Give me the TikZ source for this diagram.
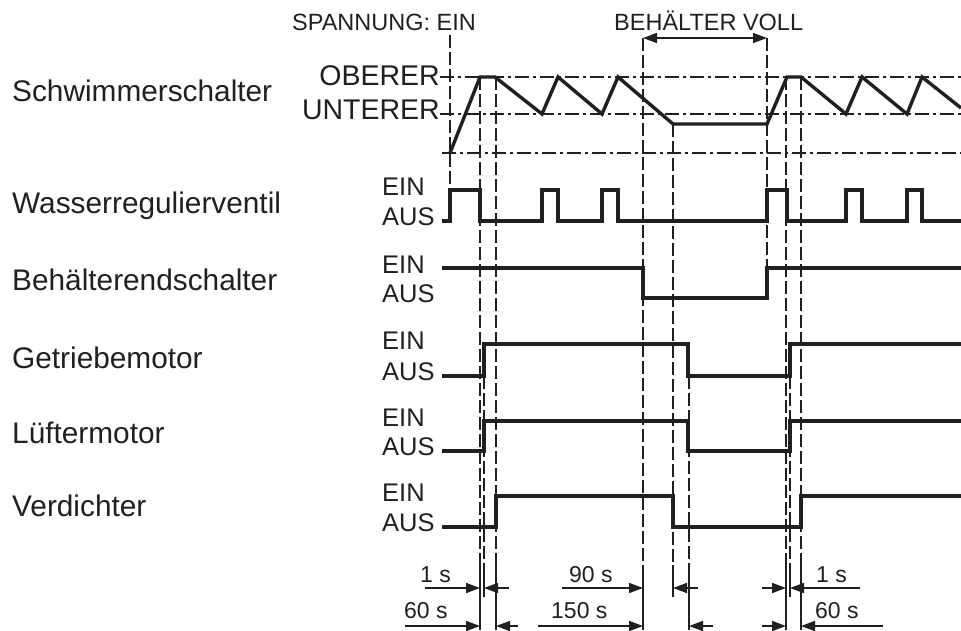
\documentclass[tikz,border=0pt]{standalone}
\usepackage{fontspec}
\setmainfont{Liberation Sans}
\usetikzlibrary{arrows.meta}
\definecolor{ink}{HTML}{231F20}

\begin{document}
\begin{tikzpicture}[x=1pt, y=-1pt, color=ink,
  sig/.style={line width=3.4pt, line join=miter},
  guide/.style={line width=1.7pt, dash pattern=on 13pt off 4pt},
  level/.style={line width=1.6pt, dash pattern=on 14pt off 4pt on 3pt off 4pt},
  dimline/.style={line width=1.7pt, -{Triangle[length=14pt,width=10pt]}},
  rowlabel/.style={anchor=base west, inner sep=0pt, font=\fontsize{29.8}{34}\selectfont},
  statelabel/.style={anchor=base west, inner sep=0pt, font=\fontsize{25.5}{29}\selectfont},
  toplabel/.style={anchor=base west, inner sep=0pt, font=\fontsize{23.5}{27}\selectfont},
  timelabel/.style={anchor=base west, inner sep=0pt, font=\fontsize{23}{26}\selectfont}]
  \fill[white] (0,0) rectangle (961,630);
  \useasboundingbox (0,0) rectangle (961,630);

  % Row names
  \node[rowlabel] (float)  at (12,101) {Schwimmerschalter};
  \node[rowlabel] (valve)  at (12,213) {Wasserregulierventil};
  \node[rowlabel] (tank)   at (12,290) {Behälterendschalter};
  \node[rowlabel] (gear)   at (12,368) {Getriebemotor};
  \node[rowlabel] (fan)    at (12,443) {Lüftermotor};
  \node[rowlabel] (comp)   at (12,516) {Verdichter};

  % EIN / AUS states
  \foreach \hi/\lo [count=\i] in {190/221, 268/298, 344/376, 421/451, 496/527} {
    \node[statelabel] (ein\i) at (382,\hi+5) {EIN};
    \node[statelabel] (aus\i) at (382,\lo+4) {AUS};
  }

  % Float levels
  \node[anchor=base east, inner sep=0pt, font=\fontsize{28.5}{33}\selectfont] (upper) at (440,85) {OBERER};
  \node[anchor=base east, inner sep=0pt, font=\fontsize{28.5}{33}\selectfont] (lower) at (440,119) {UNTERER};
  \draw[level] (440,77) -- (961,77);
  \draw[level] (440,114) -- (961,114);
  \draw[level] (442,153) -- (961,153);

  % Events on top
  \node[toplabel] (power) at (292,30) {SPANNUNG: EIN};
  \node[toplabel] (full) at (614,30) {BEHÄLTER VOLL};
  \draw[line width=1.7pt, {Triangle[length=14pt,width=10pt]}-{Triangle[length=14pt,width=10pt]}] (643,38) -- (767,38);

  % Dashed time marks
  \foreach \x/\ya/\yb in {450/35/190, 767/38/268, 480/77/565, 484/376/565, 496/77/565,
      643/38/565, 673/124/565, 689/376/565, 786/77/565, 790/376/565, 801/77/565} {
    \draw[guide] (\x,\ya) -- (\x,\yb);
  }
  \foreach \x/\yb in {480/630, 484/597, 496/630, 643/630, 673/597, 689/630, 786/630, 790/597, 801/630} {
    \draw[line width=1.7pt] (\x,565) -- (\x,\yb);
  }

  % Signals
  \draw[sig] (450,153) -- (480,77) -- (495,77) -- (542,114) -- (558,77) -- (602,114) -- (618,77)
    -- (673,124) -- (767,124) -- (787,77) -- (801,77) -- (846,114) -- (862,77) -- (907,114)
    -- (922,77) -- (961,108);
  \draw[sig] (442,221) -- (450,221) -- (450,190) -- (480,190) -- (480,221) -- (542,221) -- (542,190)
    -- (558,190) -- (558,221) -- (602,221) -- (602,190) -- (618,190) -- (618,221) -- (767,221)
    -- (767,190) -- (787,190) -- (787,221) -- (846,221) -- (846,190) -- (862,190) -- (862,221)
    -- (907,221) -- (907,190) -- (922,190) -- (922,221) -- (961,221);
  \draw[sig] (442,268) -- (643,268) -- (643,298) -- (767,298) -- (767,268) -- (961,268);
  \draw[sig] (442,376) -- (484,376) -- (484,344) -- (688,344) -- (688,376) -- (790,376) -- (790,344) -- (961,344);
  \draw[sig] (442,451) -- (484,451) -- (484,421) -- (688,421) -- (688,451) -- (790,451) -- (790,421) -- (961,421);
  \draw[sig] (442,527) -- (496,527) -- (496,496) -- (673,496) -- (673,527) -- (801,527) -- (801,496) -- (961,496);

  % Delay times
  \node[timelabel] (d1)   at (420,582) {1 s};
  \node[timelabel] (d60)  at (404,618) {60 s};
  \node[timelabel] (d90)  at (569,582) {90 s};
  \node[timelabel] (d150) at (551,618) {150 s};
  \node[timelabel] (e1)   at (816,582) {1 s};
  \node[timelabel] (e60)  at (815,618) {60 s};
  \draw[dimline] (425,588) -- (480,588);
  \draw[dimline] (509,588) -- (484,588);
  \draw[dimline] (405,626) -- (480,626);
  \draw[dimline] (518,626) -- (496,626);
  \draw[dimline] (562,588) -- (643,588);
  \draw[dimline] (698,588) -- (673,588);
  \draw[dimline] (538,626) -- (643,626);
  \draw[dimline] (713,626) -- (689,626);
  \draw[dimline] (762,588) -- (786,588);
  \draw[dimline] (860,588) -- (790,588);
  \draw[dimline] (762,626) -- (786,626);
  \draw[dimline] (883,626) -- (801,626);
\end{tikzpicture}
\end{document}
